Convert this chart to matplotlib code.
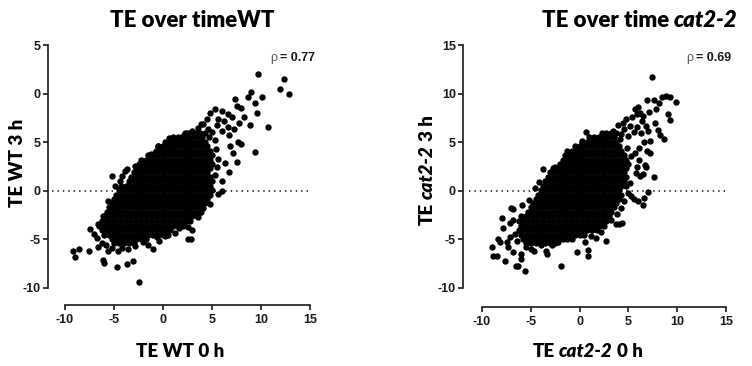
import matplotlib
matplotlib.use("Agg")
import matplotlib.pyplot as plt
from matplotlib.transforms import IdentityTransform

# ---------------- data ----------------
axis_ticks = [-10, -5, 0, 5, 10, 15]
x_tick_labels = ["-10", "-5", "0", "5", "10", "15"]
wt_y_tick_labels = ["-10", "-5", "0", "5", "0", "5"]      # as printed in the reference
cat_y_tick_labels = ["-10", "-5", "0", "5", "10", "15"]
wt_rho = "0.77"
cat_rho = "0.69"

# dense core of the WT cloud, one row per y value: (y, [x values])
wt_core_rows = [
    (-5.4, [-5.0, -4.5, -4.0, -3.5, -3.0]),
    (-5.0, [-5.25, -4.75, -4.25, -3.75, -3.25, -2.75, -2.25, -1.75]),
    (-4.5, [-6.0, -5.5, -5.0, -4.5, -4.0, -3.5, -3.0, -2.5, -2.0, -1.5, -1.0, -0.5, 0.0]),
    (-4.0, [-6.25, -5.75, -5.25, -4.75, -4.25, -3.75, -3.25, -2.75, -2.25, -1.75, -1.25, -0.75, -0.25, 0.25, 0.75]),
    (-3.6, [-6.5, -6.0, -5.5, -5.0, -4.5, -4.0, -3.5, -3.0, -2.5, -2.0, -1.5, -1.0, -0.5, 0.0, 0.5, 1.0, 1.5, 2.0]),
    (-3.1, [-6.25, -5.75, -5.25, -4.75, -4.25, -3.75, -3.25, -2.75, -2.25, -1.75, -1.25, -0.75, -0.25, 0.25, 0.75, 1.25, 1.75, 2.25, 2.75]),
    (-2.6, [-6.0, -5.5, -5.0, -4.5, -4.0, -3.5, -3.0, -2.5, -2.0, -1.5, -1.0, -0.5, 0.0, 0.5, 1.0, 1.5, 2.0, 2.5, 3.0, 3.5]),
    (-2.2, [-5.75, -5.25, -4.75, -4.25, -3.75, -3.25, -2.75, -2.25, -1.75, -1.25, -0.75, -0.25, 0.25, 0.75, 1.25, 1.75, 2.25, 2.75, 3.25, 3.75]),
    (-1.7, [-5.5, -5.0, -4.5, -4.0, -3.5, -3.0, -2.5, -2.0, -1.5, -1.0, -0.5, 0.0, 0.5, 1.0, 1.5, 2.0, 2.5, 3.0, 3.5, 4.0]),
    (-1.3, [-5.25, -4.75, -4.25, -3.75, -3.25, -2.75, -2.25, -1.75, -1.25, -0.75, -0.25, 0.25, 0.75, 1.25, 1.75, 2.25, 2.75, 3.25, 3.75, 4.25]),
    (-0.8, [-5.0, -4.5, -4.0, -3.5, -3.0, -2.5, -2.0, -1.5, -1.0, -0.5, 0.0, 0.5, 1.0, 1.5, 2.0, 2.5, 3.0, 3.5, 4.0, 4.5]),
    (-0.4, [-4.75, -4.25, -3.75, -3.25, -2.75, -2.25, -1.75, -1.25, -0.75, -0.25, 0.25, 0.75, 1.25, 1.75, 2.25, 2.75, 3.25, 3.75, 4.25, 4.75]),
    (0.1, [-4.5, -4.0, -3.5, -3.0, -2.5, -2.0, -1.5, -1.0, -0.5, 0.0, 0.5, 1.0, 1.5, 2.0, 2.5, 3.0, 3.5, 4.0, 4.5, 5.0]),
    (0.5, [-4.25, -3.75, -3.25, -2.75, -2.25, -1.75, -1.25, -0.75, -0.25, 0.25, 0.75, 1.25, 1.75, 2.25, 2.75, 3.25, 3.75, 4.25, 4.75]),
    (1.0, [-3.5, -3.0, -2.5, -2.0, -1.5, -1.0, -0.5, 0.0, 0.5, 1.0, 1.5, 2.0, 2.5, 3.0, 3.5, 4.0, 4.5, 5.0]),
    (1.4, [-3.25, -2.75, -2.25, -1.75, -1.25, -0.75, -0.25, 0.25, 0.75, 1.25, 1.75, 2.25, 2.75, 3.25, 3.75, 4.25, 4.75]),
    (1.9, [-3.0, -2.5, -2.0, -1.5, -1.0, -0.5, 0.0, 0.5, 1.0, 1.5, 2.0, 2.5, 3.0, 3.5, 4.0, 4.5]),
    (2.3, [-2.75, -2.25, -1.75, -1.25, -0.75, -0.25, 0.25, 0.75, 1.25, 1.75, 2.25, 2.75, 3.25, 3.75, 4.25, 4.75]),
    (2.8, [-2.5, -2.0, -1.5, -1.0, -0.5, 0.0, 0.5, 1.0, 1.5, 2.0, 2.5, 3.0, 3.5, 4.0, 4.5, 5.0]),
    (3.2, [-2.25, -1.75, -1.25, -0.75, -0.25, 0.25, 0.75, 1.25, 1.75, 2.25, 2.75, 3.25, 3.75, 4.25, 4.75]),
    (3.7, [-1.5, -1.0, -0.5, 0.0, 0.5, 1.0, 1.5, 2.0, 2.5, 3.0, 3.5, 4.0, 4.5, 5.0]),
    (4.1, [-0.75, -0.25, 0.25, 0.75, 1.25, 1.75, 2.25, 2.75, 3.25, 3.75, 4.25, 4.75]),
    (4.6, [-0.5, 0.0, 0.5, 1.0, 1.5, 2.0, 2.5, 3.0, 3.5, 4.0, 4.5]),
    (5.0, [0.25, 0.75, 1.25, 1.75, 2.25, 2.75, 3.25, 3.75, 4.25]),
    (5.5, [1.0, 1.5, 2.0, 2.5, 3.0, 3.5, 4.0]),
    (5.9, [2.25, 2.75, 3.25, 3.75, 4.25]),
]

# individually visible WT points around the core: (x, y)
wt_scattered = [
    (9.7, 12.0), (12.3, 11.5), (11.9, 10.5), (12.9, 10.0), (9.0, 10.2), (8.7, 9.7), (10.1, 9.7),
    (9.4, 9.0), (7.3, 9.4), (7.5, 8.7), (8.0, 8.5), (9.6, 8.0), (8.3, 7.6), (8.9, 6.8), (7.8, 7.0),
    (4.8, 8.0), (5.3, 8.4), (6.0, 8.2), (6.6, 7.9), (5.6, 7.4), (6.2, 7.2), (7.0, 7.6), (7.2, 6.4),
    (4.1, 6.9), (4.5, 7.4), (5.5, 6.8), (6.6, 6.6), (5.0, 6.0), (6.0, 6.2), (6.7, 5.7), (3.6, 6.5),
    (3.0, 6.2), (2.4, 5.9), (1.9, 5.5), (7.7, 5.0), (8.0, 4.8), (6.8, 4.6), (7.1, 3.9), (7.5, 3.0),
    (6.3, 2.9), (10.7, 6.6), (9.4, 4.0), (6.7, 1.9), (6.0, 1.0), (6.0, 0.0), (5.6, -0.3), (4.8, -1.4),
    (4.1, -1.8), (3.6, -2.7), (3.9, -2.2), (2.1, -3.4), (2.3, -3.1), (1.6, -3.8), (0.5, -4.5),
    (0.2, -4.6), (2.6, -5.0), (2.9, -5.0), (-1.0, -6.0), (-2.0, -5.3), (-2.9, -5.7), (-3.1, -7.2),
    (-3.7, -7.5), (-4.7, -7.8), (-2.5, -9.4), (-6.1, -7.1), (-6.0, -7.4), (-4.6, -6.2), (-5.6, -6.2),
    (-6.6, -5.8), (-6.2, -5.4), (-7.6, -6.2), (-9.2, -6.2), (-8.6, -6.0), (-9.0, -6.8), (-7.4, -3.9),
    (-6.6, -3.4), (-6.1, -2.6), (-7.0, -4.4), (-5.2, 1.5), (-4.2, 1.5), (-3.9, 2.0), (-3.7, 2.2),
    (-1.7, 3.1), (-1.2, 3.8), (-0.8, 3.9), (-0.5, 4.6), (-0.3, 4.5), (0.7, 4.5), (2.1, 5.7),
    (3.9, 6.9), (-0.4, -5.2), (-1.5, -5.6), (-3.6, -6.0), (-5.2, -5.9), (5.4, 4.3), (5.6, 3.3),
    (5.3, 5.2), (4.7, 5.5), (1.4, 5.3), (0.6, 5.4), (5.3, 1.6), (5.5, 2.5), (3.6, 5.8), (4.6, 6.4),
    (-6.7, -4.9), (-5.8, -5.6), (-4.2, -5.9), (-0.6, -4.8), (1.2, -4.3), (2.5, -3.7), (4.3, -0.9),
    (3.0, -4.0), (-5.6, -1.0), (-4.9, 0.5), (-4.4, 1.0), (-2.9, 2.6),
]

# dense core of the cat2-2 cloud: (y, [x values])
cat_core_rows = [
    (-5.4, [-5.5, -5.0, -4.5, -4.0, -3.5, -3.0, -2.5]),
    (-5.0, [-5.75, -5.25, -4.75, -4.25, -3.75, -3.25, -2.75, -2.25, -1.75, -1.25, -0.75]),
    (-4.5, [-6.0, -5.5, -5.0, -4.5, -4.0, -3.5, -3.0, -2.5, -2.0, -1.5, -1.0, -0.5, 0.0, 0.5]),
    (-4.0, [-6.25, -5.75, -5.25, -4.75, -4.25, -3.75, -3.25, -2.75, -2.25, -1.75, -1.25, -0.75, -0.25, 0.25, 0.75, 1.25, 1.75]),
    (-3.6, [-6.0, -5.5, -5.0, -4.5, -4.0, -3.5, -3.0, -2.5, -2.0, -1.5, -1.0, -0.5, 0.0, 0.5, 1.0, 1.5, 2.0, 2.5]),
    (-3.1, [-6.25, -5.75, -5.25, -4.75, -4.25, -3.75, -3.25, -2.75, -2.25, -1.75, -1.25, -0.75, -0.25, 0.25, 0.75, 1.25, 1.75, 2.25, 2.75]),
    (-2.6, [-6.0, -5.5, -5.0, -4.5, -4.0, -3.5, -3.0, -2.5, -2.0, -1.5, -1.0, -0.5, 0.0, 0.5, 1.0, 1.5, 2.0, 2.5, 3.0]),
    (-2.2, [-5.25, -4.75, -4.25, -3.75, -3.25, -2.75, -2.25, -1.75, -1.25, -0.75, -0.25, 0.25, 0.75, 1.25, 1.75, 2.25, 2.75, 3.25]),
    (-1.7, [-5.0, -4.5, -4.0, -3.5, -3.0, -2.5, -2.0, -1.5, -1.0, -0.5, 0.0, 0.5, 1.0, 1.5, 2.0, 2.5, 3.0, 3.5]),
    (-1.3, [-4.75, -4.25, -3.75, -3.25, -2.75, -2.25, -1.75, -1.25, -0.75, -0.25, 0.25, 0.75, 1.25, 1.75, 2.25, 2.75, 3.25, 3.75]),
    (-0.8, [-4.5, -4.0, -3.5, -3.0, -2.5, -2.0, -1.5, -1.0, -0.5, 0.0, 0.5, 1.0, 1.5, 2.0, 2.5, 3.0, 3.5, 4.0]),
    (-0.4, [-4.25, -3.75, -3.25, -2.75, -2.25, -1.75, -1.25, -0.75, -0.25, 0.25, 0.75, 1.25, 1.75, 2.25, 2.75, 3.25, 3.75, 4.25]),
    (0.1, [-4.0, -3.5, -3.0, -2.5, -2.0, -1.5, -1.0, -0.5, 0.0, 0.5, 1.0, 1.5, 2.0, 2.5, 3.0, 3.5, 4.0]),
    (0.5, [-3.75, -3.25, -2.75, -2.25, -1.75, -1.25, -0.75, -0.25, 0.25, 0.75, 1.25, 1.75, 2.25, 2.75, 3.25, 3.75, 4.25]),
    (1.0, [-3.5, -3.0, -2.5, -2.0, -1.5, -1.0, -0.5, 0.0, 0.5, 1.0, 1.5, 2.0, 2.5, 3.0, 3.5, 4.0, 4.5]),
    (1.4, [-3.25, -2.75, -2.25, -1.75, -1.25, -0.75, -0.25, 0.25, 0.75, 1.25, 1.75, 2.25, 2.75, 3.25, 3.75, 4.25, 4.75]),
    (1.9, [-3.0, -2.5, -2.0, -1.5, -1.0, -0.5, 0.0, 0.5, 1.0, 1.5, 2.0, 2.5, 3.0, 3.5, 4.0, 4.5]),
    (2.3, [-2.75, -2.25, -1.75, -1.25, -0.75, -0.25, 0.25, 0.75, 1.25, 1.75, 2.25, 2.75, 3.25, 3.75, 4.25, 4.75]),
    (2.8, [-2.0, -1.5, -1.0, -0.5, 0.0, 0.5, 1.0, 1.5, 2.0, 2.5, 3.0, 3.5, 4.0, 4.5, 5.0]),
    (3.2, [-1.75, -1.25, -0.75, -0.25, 0.25, 0.75, 1.25, 1.75, 2.25, 2.75, 3.25, 3.75, 4.25, 4.75]),
    (3.7, [-1.5, -1.0, -0.5, 0.0, 0.5, 1.0, 1.5, 2.0, 2.5, 3.0, 3.5, 4.0, 4.5]),
    (4.1, [-1.25, -0.75, -0.25, 0.25, 0.75, 1.25, 1.75, 2.25, 2.75, 3.25, 3.75, 4.25]),
    (4.6, [-0.5, 0.0, 0.5, 1.0, 1.5, 2.0, 2.5, 3.0, 3.5, 4.0]),
    (5.0, [0.25, 0.75, 1.25, 1.75, 2.25, 2.75, 3.25, 3.75]),
    (5.5, [1.0, 1.5, 2.0, 2.5, 3.0, 3.5]),
    (5.9, [2.25, 2.75, 3.25, 3.75]),
]

# individually visible cat2-2 points: (x, y)
cat_scattered = [
    (7.4, 11.7), (8.9, 9.8), (8.4, 9.7), (9.3, 9.6), (9.9, 9.1), (7.6, 9.3), (8.1, 9.0), (6.9, 9.3),
    (5.7, 8.4), (6.2, 8.0), (6.5, 7.7), (5.9, 7.9), (5.4, 7.6), (9.1, 7.9), (9.3, 7.3), (7.7, 7.0),
    (7.8, 8.4), (7.1, 8.1), (6.0, 8.6), (6.4, 7.2), (6.8, 6.7), (8.0, 6.3), (5.9, 6.6), (6.3, 5.9),
    (5.6, 6.0), (4.6, 6.4), (4.2, 5.8), (3.9, 6.8), (4.4, 7.0), (5.0, 5.6), (6.6, 5.0), (6.1, 4.4),
    (5.7, 3.9), (6.1, 3.2), (5.9, 2.4), (0.7, 6.1), (4.8, 7.4), (5.2, 6.7), (7.0, 6.2), (8.2, 5.7),
    (8.6, 5.3), (7.2, 5.1), (6.9, 4.1), (7.2, 3.9), (6.7, 2.7), (6.8, 2.5), (6.5, 1.7), (7.6, 1.4),
    (3.4, 6.2), (2.6, 5.8), (1.75, 5.1), (-0.3, 4.2), (-1.0, 3.4), (-2.5, 2.4), (-3.7, 2.2),
    (-4.2, 0.9), (5.8, 1.8), (6.2, 1.5), (7.0, -0.1), (6.6, -0.7), (6.5, -1.5), (5.3, -0.5),
    (5.6, -0.8), (6.0, -1.0), (4.8, 0.5), (5.2, 0.8), (5.0, -0.2), (4.6, -1.0),
    (-8.0, -2.8), (-7.8, -3.8), (-7.0, -1.8), (-6.8, -1.9), (-5.9, -1.5), (-7.1, -3.3), (-8.4, -5.0),
    (-8.2, -5.3), (-9.0, -5.8), (-8.9, -6.7), (-8.5, -6.7), (-7.6, -7.2), (-6.5, -7.7), (-6.3, -7.7),
    (-5.6, -8.2), (-6.0, -6.5), (-6.0, -7.0), (-6.8, -6.3), (-7.3, -5.8), (-7.1, -4.8), (-7.4, -5.3),
    (-3.4, -6.2), (-3.3, -6.5), (-4.7, -6.2), (-1.9, -7.7), (-0.3, -6.3), (0.9, -6.7), (0.9, -6.1),
    (0.55, -5.3), (1.7, -4.9), (2.7, -5.2), (3.8, -2.4), (4.3, -3.3), (4.0, -3.4), (3.7, -3.4),
    (-2.2, -5.3), (-2.8, -5.6), (-4.0, -5.6), (-5.0, -6.0), (-5.5, -5.8), (-6.6, -4.4), (-6.8, -3.0),
    (4.9, 4.4), (5.3, 3.6), (4.1, 5.3), (0.2, 5.1), (-1.6, 2.9), (1.2, -4.6), (2.2, -4.2), (3.2, -3.0),
    (4.2, -1.8), (-6.4, -5.2), (-5.2, -0.9), (-4.6, 0.3),
]

# ---------------- figure ----------------
W, H = 752, 366
fig = plt.figure(figsize=(W / 100, H / 100), dpi=100)
renderer = fig.canvas.get_renderer()

TICK_FAMILY = ["Liberation Sans", "DejaVu Sans"]
LABEL_FONT = ["Lato", "DejaVu Sans"]
INK = "#1a1a1a"


def add_axes_px(left, right, top, bottom):
    return fig.add_axes([left / W, 1 - bottom / H, (right - left) / W, (bottom - top) / H])


def style_axes(ax, ylabels, left_out, bottom_out):
    ax.set_xlim(-10, 15)
    ax.set_ylim(-10, 15)
    for s in ("top", "right"):
        ax.spines[s].set_visible(False)
    ax.spines["left"].set_position(("outward", left_out * 0.72))
    ax.spines["bottom"].set_position(("outward", bottom_out * 0.72))
    for s in ("left", "bottom"):
        ax.spines[s].set_linewidth(1.2)
        ax.spines[s].set_color(INK)
    ax.set_xticks(axis_ticks)
    ax.set_xticklabels(x_tick_labels)
    ax.set_yticks(axis_ticks)
    ax.set_yticklabels(ylabels)
    ax.tick_params(direction="out", length=3.6, width=1.2, color=INK, labelcolor=INK)
    ax.tick_params(axis="y", pad=1.5)
    ax.tick_params(axis="x", pad=3)
    for lab in ax.get_xticklabels() + ax.get_yticklabels():
        lab.set_fontfamily(TICK_FAMILY)
        lab.set_fontweight("bold")
        lab.set_fontsize(9)
    ax.patch.set_visible(False)


def draw_cloud(ax, core_rows, scattered):
    xs, ys = [], []
    for y, row in core_rows:
        for x in row:
            xs.append(x)
            ys.append(y)
    for x, y in scattered:
        xs.append(x)
        ys.append(y)
    ax.scatter(xs, ys, s=21, c="black", linewidths=0, zorder=3, clip_on=False)
    ax.axhline(0, xmin=-0.055, xmax=1.0, color="#333333", lw=1.3,
               linestyle=(0, (0.8, 2.2)), zorder=2, clip_on=False)


def text_width(s, **kw):
    t = fig.text(0, 0, s, transform=IdentityTransform(), **kw)
    w = t.get_window_extent(renderer).width
    t.remove()
    return w


def rich(x, py, pieces, rotation=0, align="center", **base):
    """pieces: list of (string, overrides, space_before); x,py in image pixels."""
    y = H - py
    kws, widths, gaps = [], [], []
    for s, over, sp in pieces:
        kw = dict(base)
        kw.update(over)
        kws.append(kw)
        widths.append(text_width(s, **kw))
        gaps.append(text_width("T T", **kw) - text_width("TT", **kw) if sp else 0.0)
    total = sum(widths) + sum(gaps)
    pos = -total / 2 if align == "center" else 0.0
    for (s, over, sp), kw, w, g in zip(pieces, kws, widths, gaps):
        pos += g
        if rotation == 0:
            fig.text(x + pos, y, s, transform=IdentityTransform(),
                     ha="left", va="baseline", **kw)
        else:
            fig.text(x, y + pos, s, transform=IdentityTransform(), ha="left",
                     va="baseline", rotation=90, rotation_mode="anchor", **kw)
        pos += w


ax1 = add_axes_px(65, 310, 45, 288)
ax2 = add_axes_px(482, 726, 45, 288)
style_axes(ax1, wt_y_tick_labels, 17, 17)
style_axes(ax2, cat_y_tick_labels, 19, 19)
draw_cloud(ax1, wt_core_rows, wt_scattered)
draw_cloud(ax2, cat_core_rows, cat_scattered)

BOLD = dict(weight="heavy", style="normal")
BOLDIT = dict(weight="heavy", style="italic")
title_kw = dict(family=LABEL_FONT, size=16, color="black")
label_kw = dict(family=LABEL_FONT, size=13.5, color="black")

# titles
rich(192, 27, [("TE over timeWT", BOLD, False)], **title_kw)
rich(640, 27, [("TE over time", BOLD, False), ("cat2-2", BOLDIT, True)], **title_kw)

# x labels
rich(180, 357, [("TE WT 0 h", BOLD, False)], **label_kw)
rich(588, 357, [("TE", BOLD, False), ("cat2-2", BOLDIT, True), ("0 h", BOLD, True)], **label_kw)

# y labels (rotated)
rich(23, 163, [("TE WT 3 h", BOLD, False)], rotation=90, **label_kw)
rich(433, 170, [("TE", BOLD, False), ("cat2-2", BOLDIT, True), ("3 h", BOLD, True)],
     rotation=90, **label_kw)

# correlation annotations
rho_kw = dict(family=TICK_FAMILY, size=9)
rich(270, 61, [("\u03c1", dict(weight="normal", color="#555555"), False),
               ("= " + wt_rho, dict(weight="bold", color=INK), True)], align="left", **rho_kw)
rich(686, 61, [("\u03c1", dict(weight="normal", color="#555555"), False),
               ("= " + cat_rho, dict(weight="bold", color=INK), True)], align="left", **rho_kw)

fig.savefig("out.png", dpi=100)
